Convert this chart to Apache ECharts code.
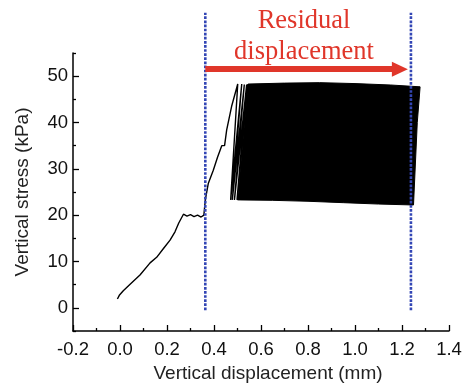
<!DOCTYPE html>
<html>
<head>
<meta charset="utf-8">
<script src="https://cdn.jsdelivr.net/npm/echarts@6/dist/echarts.min.js"></script>
<style>
  html, body { margin: 0; padding: 0; background: #fff; }
  #chart { width: 469px; height: 384px; }
</style>
</head>
<body>
<div id="chart"></div>
<script>
// loading path up to the first peak, then the first separate unload/reload loops
var curveX = [-0.011, -0.003, 0.014, 0.043, 0.085, 0.128, 0.156, 0.185, 0.213, 0.234, 0.25, 0.27, 0.285, 0.3, 0.315, 0.33, 0.345, 0.357,
              0.363, 0.376, 0.397, 0.415, 0.433, 0.445, 0.454, 0.475, 0.501,
              0.471, 0.518, 0.478, 0.529, 0.487, 0.539, 0.498, 0.545];
var curveY = [1.9, 2.7, 3.7, 5.1, 7.1, 9.7, 10.9, 12.8, 14.6, 16.4, 18.3, 20.2, 19.8, 20.1, 19.7, 20.0, 19.6, 20.0,
              23.3, 26.9, 29.7, 32.5, 35.0, 35.0, 38.4, 43.5, 48.3,
              23.3, 48.3, 23.3, 48.2, 23.3, 48.2, 23.3, 48.3];

// outline of the dense cyclic-loading block
var blockX = [0.50, 0.545, 0.7, 0.85, 1.0, 1.15, 1.277, 1.265, 1.249, 1.1, 0.95, 0.8, 0.65, 0.50];
var blockY = [23.3, 48.3, 48.5, 48.6, 48.4, 48.1, 47.7, 40.0, 22.2, 22.4, 22.7, 23.0, 23.2, 23.3];

// dotted markers and residual displacement arrow
var markerX = [0.363, 1.238];
var markerY = [-0.5, 63.7];
var arrowX = [0.363, 1.191];
var arrowY = 51.5;

var yLabels = [0, 10, 20, 30, 40, 50];
var yMinor = [-5, 5, 15, 25, 35, 45, 55];

var font = '"Liberation Sans", Arial, Helvetica, sans-serif';
var chart = echarts.init(document.getElementById('chart'));

var blockPts = blockX.map(function (x, i) { return [x, blockY[i]]; });

var option = {
    animation: false,
    grid: { left: 73, right: 20, top: 53, bottom: 53, containLabel: false, outerBoundsMode: 'none' },
    xAxis: {
        type: 'value',
        min: -0.2, max: 1.4, interval: 0.2,
        name: 'Vertical displacement (mm)',
        nameLocation: 'middle', nameGap: 32,
        nameTextStyle: { fontFamily: font, fontSize: 19, color: '#222', padding: [0, 0, 0, 14] },
        axisLine: { onZero: false, lineStyle: { color: '#000', width: 1.5 } },
        axisTick: { inside: true, length: 6, lineStyle: { color: '#000', width: 1.3 } },
        minorTick: { show: true, splitNumber: 2, length: 3, lineStyle: { color: '#000', width: 1.3 } },
        axisLabel: {
            fontFamily: font, fontSize: 18.5, color: '#111', margin: 9,
            formatter: function (v) { return v.toFixed(1); }
        },
        splitLine: { show: false }
    },
    yAxis: [{
        type: 'value',
        min: -5, max: 55,
        name: 'Vertical stress (kPa)',
        nameLocation: 'middle', nameGap: 41,
        nameTextStyle: { fontFamily: font, fontSize: 19, color: '#222' },
        axisLine: { onZero: false, lineStyle: { color: '#000', width: 1.5 } },
        axisTick: { inside: true, length: 6, customValues: yLabels, lineStyle: { color: '#000', width: 1.3 } },
        axisLabel: { fontFamily: font, fontSize: 18.5, color: '#111', margin: 5, customValues: yLabels },
        splitLine: { show: false }
    }, {
        type: 'value',
        position: 'left',
        min: -5, max: 55,
        axisLine: { show: false, onZero: false },
        axisTick: { show: true, inside: true, length: 3, customValues: yMinor, lineStyle: { color: '#000', width: 1.3 } },
        axisLabel: { show: false, customValues: yMinor },
        splitLine: { show: false }
    }],
    graphic: [{
        type: 'text', x: 304, y: 6,
        style: {
            text: 'Residual\ndisplacement',
            font: 'normal 26.5px "Liberation Serif", "Times New Roman", serif',
            fill: '#e0362a', align: 'center', verticalAlign: 'top', lineHeight: 31
        }
    }],
    series: [{
        type: 'custom',
        silent: true,
        data: blockPts,
        renderItem: function (params, api) {
            if (params.dataIndex !== 0) return null;
            return {
                type: 'polygon',
                shape: { points: blockPts.map(function (p) { return api.coord(p); }) },
                style: { fill: '#000', stroke: '#000', lineWidth: 1 }
            };
        }
    }, {
        type: 'line',
        silent: true,
        symbol: 'none',
        data: curveX.map(function (x, i) { return [x, curveY[i]]; }),
        lineStyle: { color: '#000', width: 1.4 }
    }].concat(markerX.map(function (mx) {
        return {
            type: 'line', silent: true, symbol: 'none', clip: false,
            data: [[mx, markerY[0]], [mx, markerY[1]]],
            lineStyle: { color: '#3346b5', width: 2.6, type: [2.7, 1.4] }
        };
    })).concat([{
        type: 'line', silent: true, symbol: 'none', data: [],
        markLine: {
            silent: true,
            symbol: ['none', 'triangle'],
            symbolSize: [15, 16],
            label: { show: false },
            lineStyle: { color: '#e0362a', width: 6, type: 'solid' },
            data: [[{ coord: [arrowX[0], arrowY] }, { coord: [arrowX[1], arrowY] }]]
        }
    }])
};

chart.setOption(option);
</script>
</body>
</html>
